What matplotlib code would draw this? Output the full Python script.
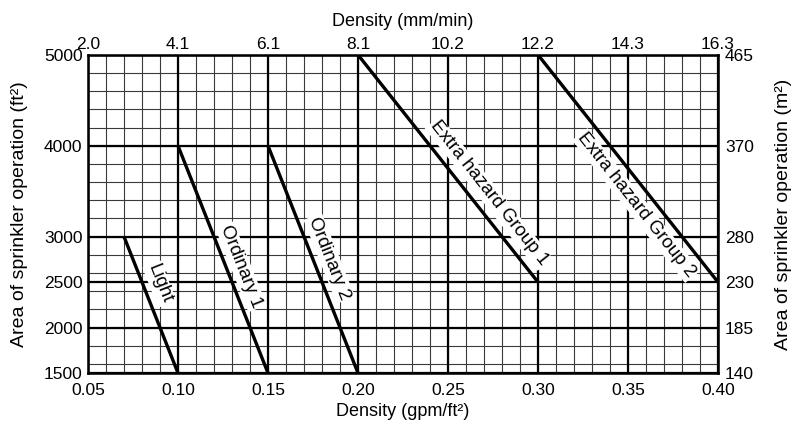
import matplotlib
matplotlib.use("Agg")
import matplotlib.pyplot as plt
import matplotlib.transforms as mtransforms
import numpy as np

plt.rcParams['font.family'] = ['Liberation Sans', 'DejaVu Sans']

# Curve data (density gpm/ft2, area ft2)
curve_names = ["Light", "Ordinary 1", "Ordinary 2", "Extra hazard Group 1", "Extra hazard Group 2"]
curve_x = [[0.07, 0.10], [0.10, 0.15], [0.15, 0.20], [0.20, 0.30], [0.30, 0.40]]
curve_y = [[3000, 1500], [4000, 1500], [4000, 1500], [5000, 2500], [5000, 2500]]
# label placement: fraction along curve, perpendicular offset (pixels, + = right/up side)
label_t = [0.39, 0.555, 0.52, 0.655, 0.618]
label_off = [15.5, 14.0, 15.5, 16.5, -16.5]

bottom_ticks = [0.05, 0.10, 0.15, 0.20, 0.25, 0.30, 0.35, 0.40]
bottom_labels = ["0.05", "0.10", "0.15", "0.20", "0.25", "0.30", "0.35", "0.40"]
top_labels = ["2.0", "4.1", "6.1", "8.1", "10.2", "12.2", "14.3", "16.3"]
left_ticks = [1500, 2000, 2500, 3000, 4000, 5000]
left_labels = ["1500", "2000", "2500", "3000", "4000", "5000"]
right_labels = ["140", "185", "230", "280", "370", "465"]
minor_x = np.arange(0.05, 0.4001, 0.01)
minor_y = np.arange(1600, 5001, 200)

TICK_FS = 12.5

fig = plt.figure(figsize=(8, 4.42), dpi=100)
ax = fig.add_axes([0.11, 0.156, 0.7875, 0.72])
ax.set_xlim(0.05, 0.40)
ax.set_ylim(1500, 5000)

for x in minor_x:
    ax.axvline(x, color='#3a3a3a', lw=0.8, zorder=1)
for y in minor_y:
    ax.axhline(y, color='#3a3a3a', lw=0.8, zorder=1)
for x in bottom_ticks:
    ax.axvline(x, color='black', lw=1.6, zorder=1.5)
for y in left_ticks:
    ax.axhline(y, color='black', lw=1.6, zorder=1.5)

for xs, ys in zip(curve_x, curve_y):
    ax.plot(xs, ys, color='black', lw=2.4, zorder=4, solid_capstyle='butt')

fig.canvas.draw()
for name, xs, ys, t, off in zip(curve_names, curve_x, curve_y, label_t, label_off):
    p1 = ax.transData.transform((xs[0], ys[0]))
    p2 = ax.transData.transform((xs[1], ys[1]))
    d = p2 - p1
    ang = np.degrees(np.arctan2(d[1], d[0]))
    u = d / np.hypot(*d)
    n = np.array([-u[1], u[0]])
    if n[0] < 0:
        n = -n
    lx = xs[0] + t * (xs[1] - xs[0])
    ly = ys[0] + t * (ys[1] - ys[0])
    tr = mtransforms.offset_copy(ax.transData, fig=fig, x=n[0] * off, y=n[1] * off, units='dots')
    ax.text(lx, ly, name, rotation=ang, rotation_mode='anchor', ha='center', va='center',
            fontsize=13.5, zorder=3, transform=tr,
            bbox=dict(facecolor='white', edgecolor='none', pad=1.0))

ax.set_xticks(bottom_ticks)
ax.set_xticklabels(bottom_labels, fontsize=TICK_FS)
ax.set_yticks(left_ticks)
ax.set_yticklabels(left_labels, fontsize=TICK_FS)
ax.tick_params(axis='x', length=0, pad=7)
ax.tick_params(axis='y', length=0, pad=4)
ax.set_xlabel("Density (gpm/ft²)", fontsize=13, labelpad=4)
ax.set_ylabel("Area of sprinkler operation (ft²)", fontsize=14, labelpad=11)
for s in ax.spines.values():
    s.set_linewidth(1.8)

axt = ax.twiny()
axt.set_xlim(ax.get_xlim())
axt.set_xticks(bottom_ticks)
axt.set_xticklabels(top_labels, fontsize=TICK_FS)
axt.tick_params(length=0, pad=2)
axt.set_xlabel("Density (mm/min)", fontsize=13, labelpad=8)

axr = ax.twinx()
axr.set_ylim(ax.get_ylim())
axr.set_yticks(left_ticks)
axr.set_yticklabels(right_labels, fontsize=TICK_FS)
axr.tick_params(length=0, pad=5)
axr.set_ylabel("Area of sprinkler operation (m²)", fontsize=14, labelpad=15)

fig.savefig("out.png", dpi=100)
